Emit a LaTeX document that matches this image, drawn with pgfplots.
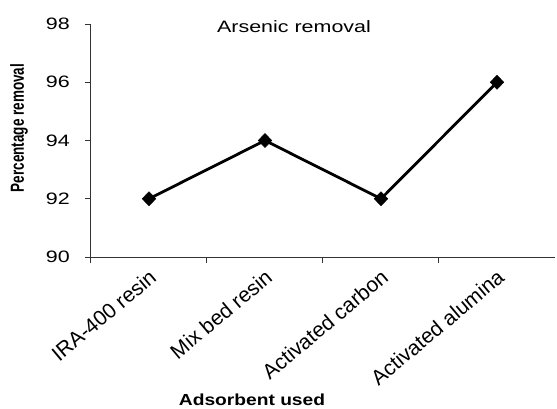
\documentclass[border=0pt]{standalone}
\usepackage{pgfplots}
\pgfplotsset{compat=1.18}
\usepackage{fontspec}
\setmainfont{Liberation Sans}
\usepackage{graphicx}
\begin{document}
\begin{tikzpicture}
\begin{axis}[
  at={(0pt,0pt)}, anchor=south west,
  scale only axis,
  width=464pt, height=233pt,
  xmin=-0.5, xmax=3.5,
  ymin=90, ymax=98,
  ytick={90,92,94,96,98},
  xtick={0,1,2,3},
  xticklabels={IRA-400 resin, Mix bed resin, Activated carbon, Activated alumina},
  minor xtick={-0.5,0.5,1.5,2.5},
  axis x line=bottom, axis y line=left,
  axis line style={-, line width=1pt, black!80},
  tick align=outside,
  x tick style={draw=none},
  minor x tick style={draw=black!80, line width=1pt},
  minor tick length=6pt,
  y tick style={line width=1pt, black!80},
  major tick length=6pt,
  /pgf/number format/assume math mode=true,
  yticklabel={\scalebox{1.3}[1]{\pgfmathprintnumber{\tick}}},
  yticklabel style={font=\fontsize{16.5}{18}\selectfont, anchor=east, inner sep=0pt, xshift=-15pt},
  xticklabel style={font=\fontsize{21}{23}\selectfont, rotate=40, anchor=north east, inner sep=0pt, xshift=-4pt, yshift=-3pt},
  clip=false,
]
\addplot[black, line width=2.8pt, mark=diamond*, mark size=7pt, mark options={xscale=1.3, line width=0.5pt}]
  coordinates {(0,92) (1,94) (2,92) (3,96)};
\node[font=\fontsize{16.5}{18}\selectfont] at (axis description cs:0.4375,0.987) {\scalebox{1.3}[1]{Arsenic removal}};
\node[font=\bfseries\fontsize{13.5}{15}\selectfont, rotate=90] at (axis description cs:-0.155,0.554) {\scalebox{1}[1.4]{Percentage removal}};
\node[font=\bfseries\fontsize{16}{18}\selectfont] at (axis description cs:0.347,-0.612) {\scalebox{1.2}[1]{Adsorbent used}};
\end{axis}
\pgfresetboundingbox
\useasboundingbox (-91pt,-151pt) rectangle (466pt,257pt);
\end{tikzpicture}
\end{document}
